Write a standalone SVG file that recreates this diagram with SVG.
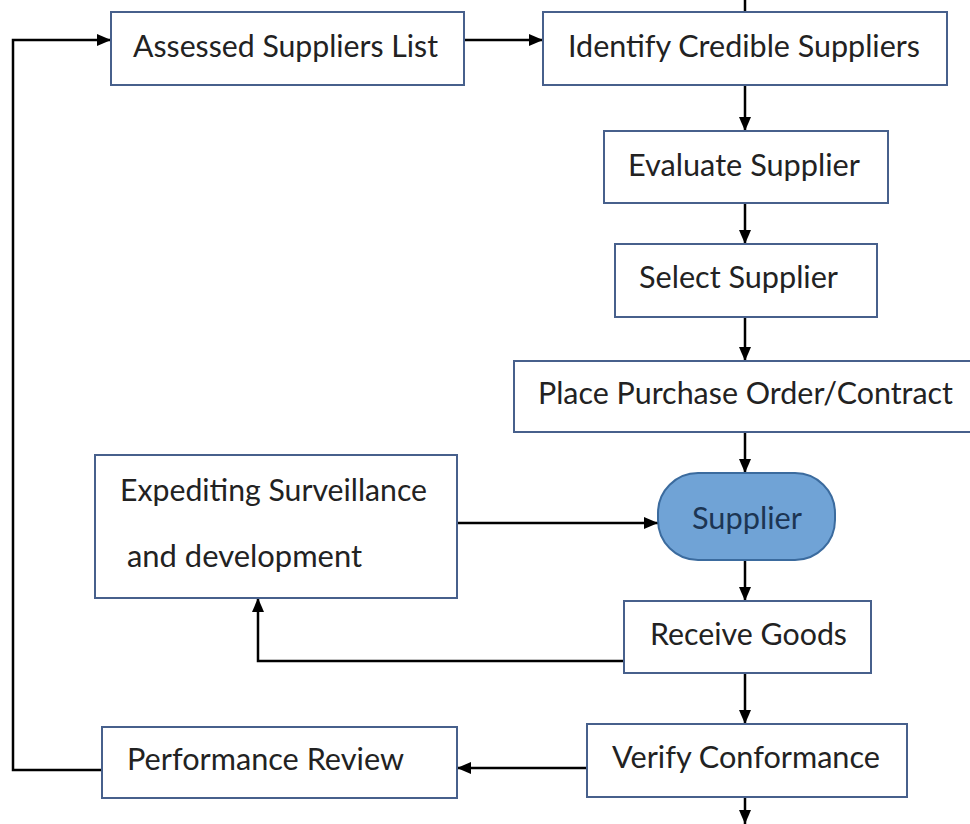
<svg xmlns="http://www.w3.org/2000/svg" width="970" height="824" viewBox="0 0 970 824">
<defs>
<marker id="ah" viewBox="0 0 14 12" refX="14" refY="6" markerWidth="14" markerHeight="12" markerUnits="userSpaceOnUse" orient="auto">
<path d="M0,0 L14,6 L0,12 Z" fill="#000"/>
</marker>
</defs>
<style>
.box{fill:#fff;stroke:#47608c;stroke-width:2}
.pill{fill:#70a3d6;stroke:#3b6b9e;stroke-width:2}
.t{font-family:Lato,"Open Sans","Liberation Sans",sans-serif;font-size:30px;fill:#222}
.ts{fill:#1c3553}
.c{fill:none;stroke:#000;stroke-width:2.5}
</style>
<rect width="970" height="824" fill="#fff"/>
<g id="connectors">
<line class="c" x1="745" y1="0" x2="745" y2="12"/>
<line class="c" x1="464" y1="40" x2="543" y2="40" marker-end="url(#ah)"/>
<line class="c" x1="745" y1="85" x2="745" y2="131" marker-end="url(#ah)"/>
<line class="c" x1="745" y1="203" x2="745" y2="244" marker-end="url(#ah)"/>
<line class="c" x1="745" y1="317" x2="745" y2="361" marker-end="url(#ah)"/>
<line class="c" x1="745" y1="432" x2="745" y2="473" marker-end="url(#ah)"/>
<line class="c" x1="457" y1="523" x2="658" y2="523" marker-end="url(#ah)"/>
<line class="c" x1="745" y1="560" x2="745" y2="601" marker-end="url(#ah)"/>
<polyline class="c" points="624,661 258,661 258,598" marker-end="url(#ah)"/>
<line class="c" x1="745" y1="673" x2="745" y2="724" marker-end="url(#ah)"/>
<line class="c" x1="587" y1="768" x2="457" y2="768" marker-end="url(#ah)"/>
<polyline class="c" points="102,770 13,770 13,40 111,40" marker-end="url(#ah)"/>
<line class="c" x1="745" y1="797" x2="745" y2="824" marker-end="url(#ah)"/>
</g>
<g id="n-assessed">
<rect class="box" x="111" y="12" width="353" height="73"/>
<text class="t" x="133" y="57" textLength="305" lengthAdjust="spacingAndGlyphs">Assessed Suppliers List</text>
</g>
<g id="n-identify">
<rect class="box" x="543" y="12" width="404" height="73"/>
<text class="t" x="568" y="57" textLength="352" lengthAdjust="spacingAndGlyphs">Identify Credible Suppliers</text>
</g>
<g id="n-evaluate">
<rect class="box" x="604" y="131" width="284" height="72"/>
<text class="t" x="628" y="176" textLength="232" lengthAdjust="spacingAndGlyphs">Evaluate Supplier</text>
</g>
<g id="n-select">
<rect class="box" x="615" y="244" width="262" height="73"/>
<text class="t" x="639" y="288" textLength="199" lengthAdjust="spacingAndGlyphs">Select Supplier</text>
</g>
<g id="n-place">
<rect class="box" x="514" y="361" width="470" height="71"/>
<text class="t" x="538" y="404" textLength="415" lengthAdjust="spacingAndGlyphs">Place Purchase Order/Contract</text>
</g>
<g id="n-supplier">
<rect class="pill" x="658" y="473" width="177" height="87" rx="40" ry="40"/>
<text class="t ts" x="692" y="529" textLength="110" lengthAdjust="spacingAndGlyphs">Supplier</text>
</g>
<g id="n-expediting">
<rect class="box" x="95" y="455" width="362" height="143"/>
<text class="t" x="120" y="501" textLength="307" lengthAdjust="spacingAndGlyphs">Expediting Surveillance</text>
<text class="t" x="127" y="567" textLength="235" lengthAdjust="spacingAndGlyphs">and development</text>
</g>
<g id="n-receive">
<rect class="box" x="624" y="601" width="247" height="72"/>
<text class="t" x="650" y="645" textLength="197" lengthAdjust="spacingAndGlyphs">Receive Goods</text>
</g>
<g id="n-verify">
<rect class="box" x="587" y="724" width="320" height="73"/>
<text class="t" x="612" y="768" textLength="268" lengthAdjust="spacingAndGlyphs">Verify Conformance</text>
</g>
<g id="n-performance">
<rect class="box" x="102" y="727" width="355" height="71"/>
<text class="t" x="127" y="770" textLength="277" lengthAdjust="spacingAndGlyphs">Performance Review</text>
</g>
</svg>
